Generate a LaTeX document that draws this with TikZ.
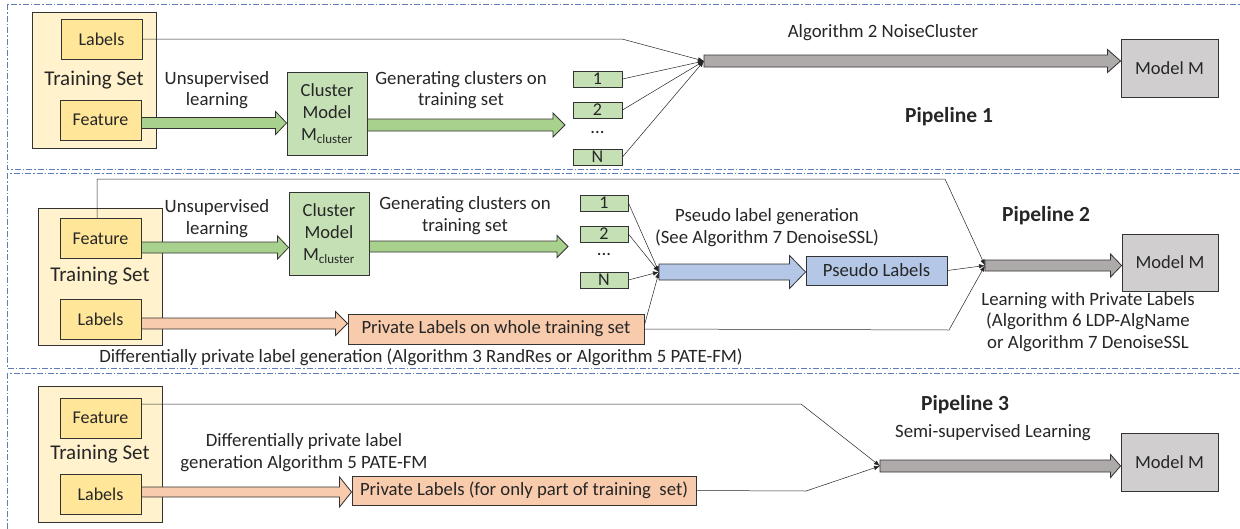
\documentclass[tikz,border=0pt]{standalone}
\usepackage{fontspec}
\setmainfont{Carlito}
\usetikzlibrary{arrows.meta,calc}
\definecolor{tsfill}{HTML}{FFF2CC}
\definecolor{boxyel}{HTML}{FFE699}
\definecolor{grnbox}{HTML}{C5E0B4}
\definecolor{grnarr}{HTML}{A9D18E}
\definecolor{grayarr}{HTML}{AEAAAA}
\definecolor{graybox}{HTML}{D0CECE}
\definecolor{bluebox}{HTML}{B4C7E7}
\definecolor{salmon}{HTML}{F8CBAD}
\definecolor{panelc}{RGB}{95,125,185}
\definecolor{txt}{HTML}{262626}
\newcommand{\barrow}[6]{%
  \path[blockar,fill=#1] let \p1=#2, \p2=#3 in
    (\x1,{\y1+#4}) -- ({\x2-#6},{\y1+#4}) -- ({\x2-#6},{\y1+#5}) -- (\x2,\y1)
    -- ({\x2-#6},{\y1-#5}) -- ({\x2-#6},{\y1-#4}) -- (\x1,{\y1-#4}) -- cycle;}
\begin{document}
\begin{tikzpicture}[x=1pt,y=-1pt,
  every node/.style={text=txt},
  bx/.style={draw=black!80,line width=0.9pt,inner sep=0pt,align=center},
  tsbox/.style={bx,fill=tsfill,font=\fontsize{21}{25}\selectfont},
  ybox/.style={bx,fill=boxyel,minimum width=81pt,minimum height=40pt,font=\fontsize{18}{21}\selectfont},
  cmbox/.style={bx,fill=grnbox,minimum width=80pt,minimum height=83pt,font=\fontsize{18.5}{22}\selectfont},
  kbox/.style={bx,fill=grnbox,minimum height=16pt,font=\fontsize{18}{16}\selectfont},
  mbox/.style={bx,fill=graybox,minimum width=97pt,minimum height=58pt,font=\fontsize{18.5}{21}\selectfont},
  lbox/.style={bx,minimum height=29pt,font=\fontsize{18.7}{21}\selectfont},
  ann/.style={align=center,inner sep=0pt,font=\fontsize{18.8}{21.5}\selectfont},
  pipe/.style={inner sep=0pt,font=\fontsize{21.5}{25}\selectfont\bfseries},
  blockar/.style={draw=black!80,line width=0.8pt,line join=miter},
  thin/.style={draw=black!85,line width=0.5pt},
  thinar/.style={thin,-{Latex[length=6pt,width=4.5pt]}},
  panel/.style={draw=panelc,line width=0.9pt,dash pattern=on 6pt off 2pt on 1.5pt off 2pt}
]
\useasboundingbox (0,0) rectangle (1240,528);
\fill[white] (0,0) rectangle (1240,528);

% panels
\draw[panel] (7,4) rectangle (1250,169);
\draw[panel] (7,173) rectangle (1250,368);
\draw[panel] (7,373) rectangle (1250,545);

% ===== Pipeline 1 =====
\node[tsbox,minimum width=124pt,minimum height=136pt] (ts1) at (94,80) {Training Set};
\node[ybox] (lab1) at (101.5,39) {Labels};
\node[ybox] (fea1) at (100.5,120) {Feature};
\node[cmbox] (cm1) at (327,113.5) {Cluster\\Model\\M\textsubscript{cluster}};
\node[kbox,minimum width=49pt] (k11) at (597.5,79) {1};
\node[kbox,minimum width=49pt] (k12) at (597.5,110) {2};
\node[ann] (d1) at (597.5,133) {...};
\node[kbox,minimum width=49pt] (k1N) at (597.5,157) {N};
\node[mbox] (mm1) at (1169.5,68) {Model M};
\coordinate (c1) at (704,61);
\coordinate (t1) at (622,39);
\coordinate (g1) at (565,125);

\node[ann] (u1) at (217,90) {Unsupervised\\learning};
\node[ann] (gc1) at (461,90) {Generating clusters on\\training set};
\node[ann] (a1) at (883,33) {Algorithm 2 NoiseCluster};
\node[pipe] (p1) at (949,117) {Pipeline 1};

\barrow{grnarr}{([yshift=-3pt]fea1.east)}{(cm1.west)}{5.5pt}{11.5pt}{11pt}
\barrow{grnarr}{([yshift=-11.5pt]cm1.east)}{(g1)}{6pt}{12pt}{12pt}
\draw[thinar] (lab1.east) -- (t1) -- (c1);
\draw[thinar] (k11.east) -- (c1);
\draw[thinar] (k12.east) -- (c1);
\draw[thinar] (k1N.east) -- (c1);
\barrow{grayarr}{(c1)}{(mm1.west)}{6pt}{11.5pt}{13pt}

% ===== Pipeline 2 =====
\node[tsbox,minimum width=124pt,minimum height=137pt] (ts2) at (100,276.5) {Training Set};
\node[ybox] (fea2) at (100.5,238.5) {Feature};
\node[ybox] (lab2) at (100.5,319) {Labels};
\node[cmbox] (cm2) at (329,233.5) {Cluster\\Model\\M\textsubscript{cluster}};
\node[kbox,minimum width=48pt] (k21) at (604,203) {1};
\node[kbox,minimum width=48pt] (k22) at (604,234) {2};
\node[ann] (d2) at (604,255) {...};
\node[kbox,minimum width=48pt] (k2N) at (604,280) {N};
\node[lbox,fill=bluebox,minimum width=141pt] (pl2) at (876.5,270.5) {Pseudo Labels};
\node[lbox,fill=salmon,minimum width=296pt,minimum height=30pt] (pr2) at (496,329) {Private Labels on whole training set};
\node[mbox,minimum width=96pt,minimum height=57pt] (mm2) at (1170,262.5) {Model M};
\coordinate (c2a) at (659,272);
\coordinate (c2b) at (985,265.5);
\coordinate (t2) at (945,179);
\coordinate (b2) at (949,330);
\coordinate (g2) at (568,246.5);

\node[ann] (u2) at (217,218.5) {Unsupervised\\learning};
\node[ann] (gc2) at (465,215.5) {Generating clusters on\\training set};
\node[ann] (ps2) at (767,227.5) {Pseudo label generation\\(See Algorithm 7 DenoiseSSL)};
\node[pipe] (p2) at (1046,216) {Pipeline 2};
\node[ann] (lw2) at (1088,322) {Learning with Private Labels\\(Algorithm 6 LDP-AlgName\\or Algorithm 7 DenoiseSSL};
\node[ann] (dp2) at (421,357) {Differentially private label generation (Algorithm 3 RandRes or Algorithm 5 PATE-FM)};

\barrow{grnarr}{([yshift=-9pt]fea2.east)}{(cm2.west)}{5.5pt}{11.5pt}{11pt}
\barrow{grnarr}{([yshift=-13pt]cm2.east)}{(g2)}{5.5pt}{11pt}{11pt}
\barrow{salmon}{([yshift=-4.5pt]lab2.east)}{(pr2.west)}{5.5pt}{12pt}{12pt}
\draw[thinar] (k21.east) -- (c2a);
\draw[thinar] (k22.east) -- (c2a);
\draw[thinar] (k2N.east) -- (c2a);
\draw[thinar] ([yshift=4pt]pr2.east) -- (c2a);
\barrow{bluebox}{(c2a)}{(pl2.west)}{8pt}{16.5pt}{16pt}
\draw[thinar] ([xshift=-3.5pt]fea2.north) |- (t2) -- (c2b);
\draw[thinar] (pl2.east) -- (c2b);
\draw[thinar] (pr2.east) -- (b2) -- (c2b);
\barrow{grayarr}{(c2b)}{(mm2.west)}{5.5pt}{11.5pt}{11pt}

% ===== Pipeline 3 =====
\node[tsbox,minimum width=124pt,minimum height=136pt] (ts3) at (100,454) {Training Set};
\node[ybox] (fea3) at (100.5,418) {Feature};
\node[ybox] (lab3) at (100.5,494) {Labels};
\node[lbox,fill=salmon,minimum width=344pt] (pr3) at (524,490.5) {Private Labels (for only part of training~ set)};
\node[mbox] (mm3) at (1169.5,462) {Model M};
\coordinate (c3) at (880,466);
\coordinate (t3) at (801,404);
\coordinate (b3) at (806,491);

\node[ann] (dp3) at (304,452.5) {Differentially private label\\generation Algorithm 5 PATE-FM};
\node[pipe] (p3) at (965,405) {Pipeline 3};
\node[ann] (ss3) at (993,433) {Semi-supervised Learning};

\barrow{salmon}{([yshift=2pt]lab3.east)}{(pr3.west)}{5pt}{15pt}{12pt}
\draw[thinar] ([yshift=14pt]fea3.east) -- (t3) -- (c3);
\draw[thinar] (pr3.east) -- (b3) -- (c3);
\barrow{grayarr}{(c3)}{(mm3.west)}{6pt}{11.5pt}{10pt}
\end{tikzpicture}
\end{document}
